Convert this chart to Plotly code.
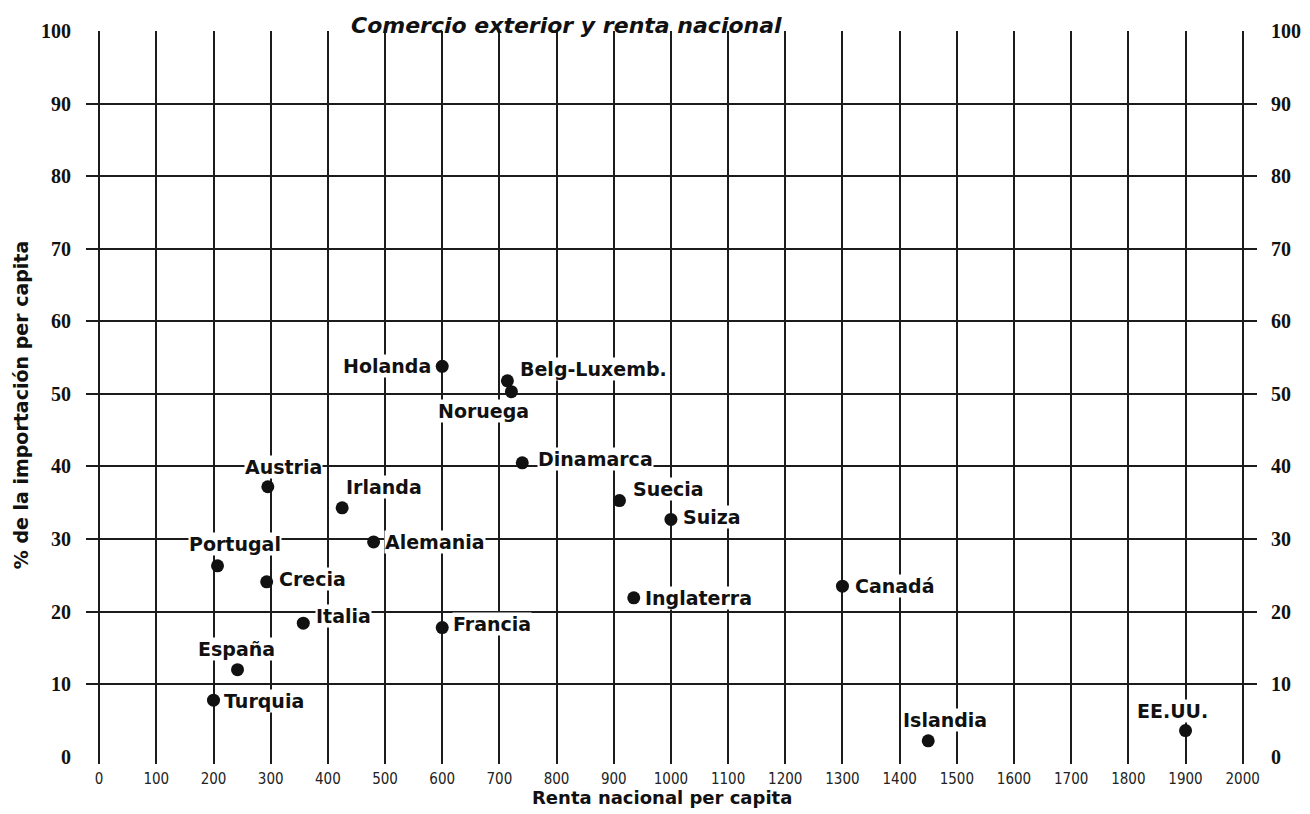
import plotly.graph_objects as go

# ---- data ----
countries = ["Holanda", "Belg-Luxemb.", "Noruega", "Dinamarca", "Austria", "Irlanda",
             "Suecia", "Suiza", "Alemania", "Portugal", "Crecia", "Italia", "Francia",
             "España", "Turquia", "Inglaterra", "Canadá", "Islandia", "EE.UU."]
renta = [600, 714, 721, 740, 295, 425, 910, 1000, 480, 207, 293, 357, 600,
         242, 200, 935, 1300, 1450, 1900]
importacion = [53.8, 51.8, 50.3, 40.5, 37.2, 34.3, 35.3, 32.7, 29.6, 26.3, 24.1, 18.4, 17.8,
               12.0, 7.8, 21.9, 23.5, 2.2, 3.6]
x_tick_vals = list(range(0, 2001, 100))
x_tick_text = [str(v) for v in x_tick_vals]
y_tick_vals = list(range(0, 101, 10))
y_grid_vals = list(range(10, 100, 10))

# label placement (style only): (xanchor, xshift px, yshift px)
label_pos = {
    "Holanda": ("right", -10, 0),
    "Belg-Luxemb.": ("left", 12, 12),
    "Noruega": ("center", -28, -19),
    "Dinamarca": ("left", 15, 4),
    "Austria": ("center", 16, 20),
    "Irlanda": ("left", 3, 21),
    "Suecia": ("left", 13, 12),
    "Suiza": ("left", 11, 2),
    "Alemania": ("left", 10, 0),
    "Portugal": ("center", 17, 22),
    "Crecia": ("left", 11, 3),
    "Italia": ("left", 12, 7),
    "Francia": ("left", 10, 4),
    "España": ("center", -1, 21),
    "Turquia": ("left", 9, -1),
    "Inglaterra": ("left", 10, 0),
    "Canadá": ("left", 12, 0),
    "Islandia": ("center", 17, 21),
    "EE.UU.": ("center", -13, 20),
}

GRID = "#1c1c1c"
LABEL_FONT = dict(family="DejaVu Sans, Verdana, sans-serif", size=19, color="#111111", weight="bold")
NUM_FONT = dict(family="Liberation Serif, DejaVu Serif, serif", size=20, color="#111111", weight="bold")
TICK_FONT = dict(family="Liberation Sans Narrow, DejaVu Sans Condensed, Liberation Sans, sans-serif",
                 size=15, color="#222222")

fig = go.Figure()
fig.add_trace(go.Scatter(
    x=renta, y=importacion, mode="markers",
    marker=dict(color="#111111", size=13),
    showlegend=False, hoverinfo="text", text=countries,
))
# invisible traces so the label-only axes are rendered
fig.add_trace(go.Scatter(x=[None], y=[None], yaxis="y2", showlegend=False, hoverinfo="skip"))
fig.add_trace(go.Scatter(x=[None], y=[None], yaxis="y3", showlegend=False, hoverinfo="skip"))

for name, xv, yv in zip(countries, renta, importacion):
    xa, xs, ys = label_pos[name]
    fig.add_annotation(
        x=xv, y=yv, xref="x", yref="y", text=name, showarrow=False,
        xanchor=xa, yanchor="middle", xshift=xs, yshift=ys,
        font=LABEL_FONT, bgcolor="white", borderpad=0,
    )

# title at the very top of the page
fig.add_annotation(
    text="Comercio exterior y renta nacional", xref="paper", yref="paper",
    x=0.41, y=1.027, xanchor="center", yanchor="top", showarrow=False,
    font=dict(family="DejaVu Sans, sans-serif", size=22, color="#111111",
              weight="bold", style="italic"),
)
# axis titles
fig.add_annotation(
    text="Renta nacional per capita", xref="paper", yref="paper",
    x=0.492, y=-0.046, xanchor="center", yanchor="middle", showarrow=False,
    font=dict(family="DejaVu Sans, sans-serif", size=18, color="#111111", weight="bold"),
)
fig.add_annotation(
    text="% de la importación per capita", xref="paper", yref="paper",
    x=-0.056, y=0.49, xanchor="center", yanchor="middle", showarrow=False, textangle=-90,
    font=dict(family="DejaVu Sans, sans-serif", size=19, color="#111111", weight="bold"),
)

fig.update_layout(
    width=1310, height=814,
    margin=dict(l=78, r=61, t=20, b=58),
    paper_bgcolor="white", plot_bgcolor="white",
    showlegend=False,
    xaxis=dict(
        range=[-23, 2025], tickmode="array", tickvals=x_tick_vals, ticktext=x_tick_text,
        showgrid=True, gridcolor=GRID, gridwidth=1.7,
        zeroline=True, zerolinecolor=GRID, zerolinewidth=1.7,
        showline=False, ticks="", tickfont=TICK_FONT, ticklabelstandoff=4,
        fixedrange=True,
    ),
    yaxis=dict(
        range=[-1, 100], tickmode="array", tickvals=y_grid_vals,
        showgrid=True, gridcolor=GRID, gridwidth=1.7, zeroline=False,
        showticklabels=False, showline=False, ticks="", fixedrange=True,
    ),
    yaxis2=dict(
        range=[-1, 100], overlaying="y", side="left", tickmode="array", tickvals=y_tick_vals,
        showgrid=False, zeroline=False, showline=False, ticks="",
        tickfont=NUM_FONT, ticklabelstandoff=14, fixedrange=True,
    ),
    yaxis3=dict(
        range=[-1, 100], overlaying="y", side="right", tickmode="array", tickvals=y_tick_vals,
        showgrid=False, zeroline=False, showline=False, ticks="",
        tickfont=NUM_FONT, ticklabelstandoff=13, fixedrange=True,
    ),
)

fig.write_html("out.html")
